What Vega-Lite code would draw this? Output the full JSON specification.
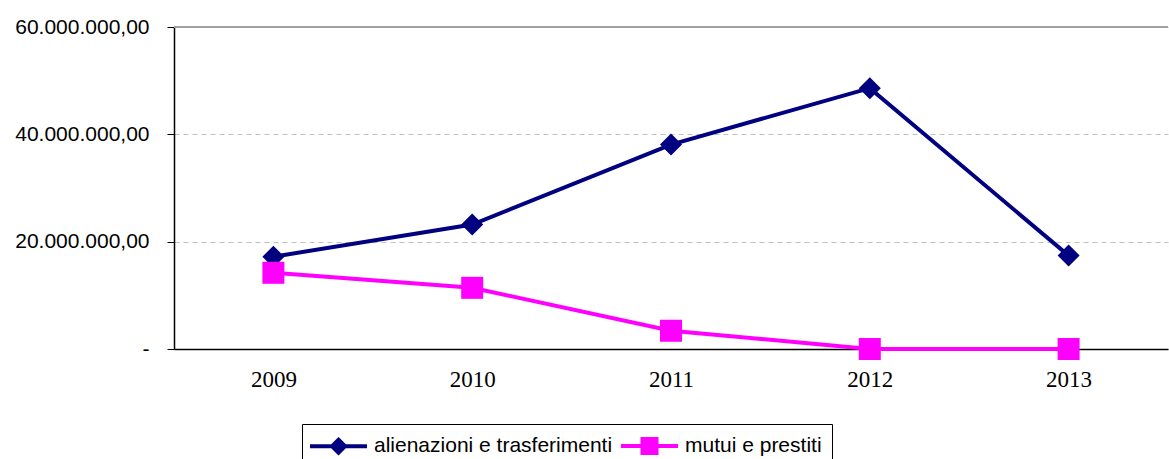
{
  "$schema": "https://vega.github.io/schema/vega-lite/v6.json",
  "width": 994,
  "height": 322,
  "autosize": {"type": "none"},
  "padding": {"left": 174, "top": 27, "right": 1, "bottom": 110},
  "background": "white",
  "data": {
    "values": [
      {"year": "2009", "serie": "alienazioni e trasferimenti", "valore": 17200000},
      {"year": "2010", "serie": "alienazioni e trasferimenti", "valore": 23200000},
      {"year": "2011", "serie": "alienazioni e trasferimenti", "valore": 38100000},
      {"year": "2012", "serie": "alienazioni e trasferimenti", "valore": 48600000},
      {"year": "2013", "serie": "alienazioni e trasferimenti", "valore": 17400000},
      {"year": "2009", "serie": "mutui e prestiti", "valore": 14200000},
      {"year": "2010", "serie": "mutui e prestiti", "valore": 11400000},
      {"year": "2011", "serie": "mutui e prestiti", "valore": 3400000},
      {"year": "2012", "serie": "mutui e prestiti", "valore": 0},
      {"year": "2013", "serie": "mutui e prestiti", "valore": 0}
    ]
  },
  "config": {
    "view": {"stroke": null},
    "axis": {"domainColor": "black", "tickColor": "black", "domainWidth": 1.5}
  },
  "layer": [
    {
      "mark": {"type": "rule", "color": "#a0a0a0", "strokeWidth": 1},
      "encoding": {"y": {"datum": 60000000, "type": "quantitative"}}
    },
    {
      "encoding": {
        "x": {
          "field": "year", "type": "ordinal",
          "scale": {"type": "point", "padding": 0.5},
          "axis": {
            "title": null, "labelAngle": 0, "ticks": false,
            "labelFont": "Liberation Serif", "labelFontSize": 23, "labelColor": "black",
            "labelPadding": 19, "grid": false
          }
        },
        "y": {
          "field": "valore", "type": "quantitative",
          "scale": {"domain": [0, 60000000], "nice": false},
          "axis": {
            "title": null, "values": [0, 20000000, 40000000, 60000000],
            "labelExpr": "datum.value == 0 ? '-' : format(datum.value / 1000000, 'd') + '.000.000,00'",
            "labelFont": "Liberation Sans", "labelFontSize": 21, "labelColor": "black",
            "tickSize": 7, "labelPadding": 18,
            "grid": true, "gridColor": "#c0c0c0", "gridDash": [5, 4], "gridWidth": 1
          }
        },
        "color": {
          "field": "serie", "type": "nominal",
          "scale": {"domain": ["alienazioni e trasferimenti", "mutui e prestiti"], "range": ["#000080", "#FF00FF"]},
          "legend": {
            "title": null, "orient": "none", "legendX": 128, "legendY": 397,
            "direction": "horizontal",
            "strokeColor": "black", "padding": 10, "fillColor": "white",
            "labelFont": "Liberation Sans", "labelFontSize": 21, "labelColor": "black",
            "labelLimit": 500, "labelOffset": 38, "columnPadding": 0,
            "symbolSize": 400, "symbolStrokeWidth": 4,
            "encode": {
              "symbols": {
                "update": {
                  "shape": {"signal": "datum.value == 'mutui e prestiti' ? 'M-1.4,0L4.3,0M0.75,-0.7L2.15,-0.7L2.15,0.7L0.75,0.7Z' : 'M-1.4,0L4.3,0M1.45,-0.65L2.1,0L1.45,0.65L0.8,0Z'"},
                  "fill": {"signal": "datum.value == 'mutui e prestiti' ? '#FF00FF' : '#000080'"},
                  "stroke": {"signal": "datum.value == 'mutui e prestiti' ? '#FF00FF' : '#000080'"},
                  "fillOpacity": {"value": 1},
                  "strokeWidth": {"value": 4}
                }
              }
            }
          }
        }
      },
      "layer": [
        {"mark": {"type": "line", "strokeWidth": 4}},
        {
          "mark": {"type": "point", "filled": true, "opacity": 1, "size": 484},
          "encoding": {
            "shape": {
              "condition": {"test": "datum.serie == 'mutui e prestiti'", "value": "square"},
              "value": "diamond"
            }
          }
        }
      ]
    }
  ]
}
